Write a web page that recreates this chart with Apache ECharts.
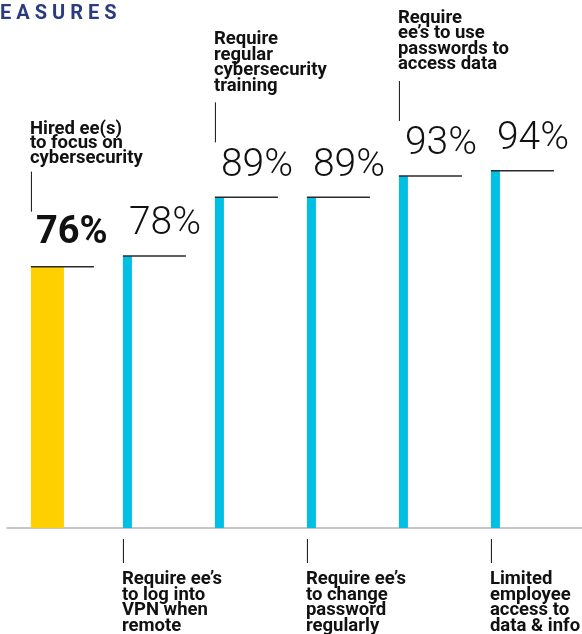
<!DOCTYPE html>
<html>
<head>
<meta charset="utf-8">
<script src="https://cdn.jsdelivr.net/npm/echarts@6/dist/echarts.min.js"></script>
<style>
  html, body { margin: 0; padding: 0; background: #ffffff; }
  #chart { width: 582px; height: 634px; }
</style>
</head>
<body>
<div id="chart"></div>
<script>
// Heading fragment shown at the top-left corner
const headingText = 'EASURES';

// Security measures, in bar order
const measures = [
  'Hired ee(s)\nto focus on\ncybersecurity',
  'Require ee’s\nto log into\nVPN when\nremote',
  'Require\nregular\ncybersecurity\ntraining',
  'Require ee’s\nto change\npassword\nregularly',
  'Require\nee’s to use\npasswords to\naccess data',
  'Limited\nemployee\naccess to\ndata & info'
];

// Share of respondents (%)
const shares = [76, 78, 89, 89, 93, 94];

// Value axis range
const Y_MIN = 27;
const Y_MAX = 102;

const YELLOW = '#FFD000';
const CYAN = '#00BFE2';
const INK = '#111111';
const NAVY = '#2A3B80';
const LABEL_FONT = 'bold 18.5px Roboto, "Noto Sans", sans-serif';
const LIGHT_FONT = '300 39px "Roboto Light", Roboto, "Noto Sans", sans-serif';
const BOLD_FONT = 'bold 38px Roboto, "Noto Sans", sans-serif';

const chart = echarts.init(document.getElementById('chart'), null, { renderer: 'canvas' });

function renderItem(params, api) {
  const i = api.value(0);
  const v = api.value(1);
  const top = api.coord([i, v]);
  const base = api.coord([i, Y_MIN]);
  const x = top[0];
  const yTop = top[1];
  const yBase = base[1];
  const featured = i === 0;
  const barW = featured ? 33 : 9;

  const children = [
    {
      type: 'rect',
      shape: { x: x, y: yTop, width: barW, height: yBase - yTop },
      style: { fill: featured ? YELLOW : CYAN }
    },
    {
      type: 'line',
      shape: { x1: x, y1: yTop, x2: x + 63, y2: yTop },
      style: { stroke: '#2a2a2a', lineWidth: 1.5 }
    },
    {
      type: 'text',
      x: featured ? x + 5 : x + 6,
      y: yTop - 33,
      style: {
        text: v + '%',
        font: featured ? BOLD_FONT : LIGHT_FONT,
        fill: INK,
        align: 'left',
        verticalAlign: 'middle'
      }
    }
  ];

  const label = measures[i];
  if (i % 2 === 0) {
    // caption above the value, joined by a short leader
    const lh = featured ? 14.2 : 15.5;
    children.push({
      type: 'line',
      shape: { x1: x + 0.5, y1: yTop - 95, x2: x + 0.5, y2: yTop - 55 },
      style: { stroke: INK, lineWidth: 1 }
    });
    children.push({
      type: 'text',
      x: x - 1,
      y: featured ? yTop - 101.5 : yTop - 103.5,
      style: {
        text: label,
        font: LABEL_FONT,
        lineHeight: lh,
        fill: INK,
        align: 'left',
        verticalAlign: 'bottom'
      }
    });
  } else {
    // caption below the axis, joined by a short leader
    children.push({
      type: 'line',
      shape: { x1: x + 0.5, y1: yBase + 11, x2: x + 0.5, y2: yBase + 35 },
      style: { stroke: INK, lineWidth: 1 }
    });
    children.push({
      type: 'text',
      x: x - 1,
      y: yBase + 44,
      style: {
        text: label,
        font: LABEL_FONT,
        lineHeight: 15.4,
        fill: INK,
        align: 'left',
        verticalAlign: 'top'
      }
    });
  }

  return { type: 'group', children: children };
}

const option = {
  animation: false,
  backgroundColor: '#ffffff',
  grid: { left: 7, right: 0, top: 128, height: 400, containLabel: false },
  xAxis: {
    type: 'value',
    min: -0.26,
    max: 5.99,
    axisLine: { show: true, onZero: false, lineStyle: { color: '#b4b4b4', width: 1.5 } },
    axisTick: { show: false },
    axisLabel: { show: false },
    splitLine: { show: false }
  },
  yAxis: {
    type: 'value',
    min: Y_MIN,
    max: Y_MAX,
    show: false,
    splitLine: { show: false }
  },
  graphic: [
    {
      type: 'text',
      x: 0,
      y: 14,
      style: {
        text: headingText.split('').map(function (c) { return '{c|' + c + '}'; }).join(''),
        verticalAlign: 'middle',
        align: 'left',
        rich: {
          c: {
            font: 'bold 20px Roboto, "Noto Sans", sans-serif',
            fill: NAVY,
            padding: [0, 5, 0, 0]
          }
        }
      }
    }
  ],
  series: [
    {
      type: 'custom',
      clip: false,
      renderItem: renderItem,
      data: shares.map(function (v, i) { return [i, v]; })
    }
  ]
};

chart.setOption(option);
</script>
</body>
</html>
